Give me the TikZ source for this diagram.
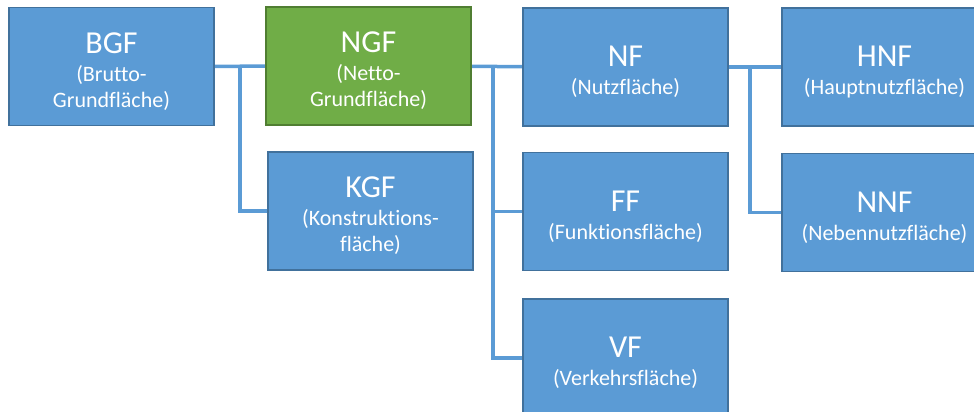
\documentclass[tikz,border=0pt]{standalone}
\usepackage{fontspec}
\setmainfont{Carlito}[Ligatures={NoCommon}]
\usepackage{tikz}
\usetikzlibrary{calc}
\definecolor{areablue}{HTML}{5B9BD5}
\definecolor{areablueline}{HTML}{41719C}
\definecolor{areagreen}{HTML}{70AD47}
\definecolor{areagreenline}{HTML}{507E32}
\newcommand{\titlefont}{\fontsize{32}{38}\selectfont}
\newcommand{\subfont}{\fontsize{22}{26}\selectfont}
\newcommand{\abbrev}[1]{\rule{0pt}{31pt}{\titlefont #1}\\[2pt]}
\tikzset{
    area/.style={draw=areablueline, fill=areablue, line width=1.2pt, text=white,
        font=\subfont, minimum width=205pt, minimum height=118pt, align=center,
        inner sep=0pt},
    netarea/.style={area, draw=areagreenline, fill=areagreen},
    link/.style={draw=areablue, line width=3.5pt}
}

\begin{document}
\begin{tikzpicture}[x=1pt, y=-1pt]
    \clip (0,0) rectangle (974,412);
    \useasboundingbox (0,0) rectangle (974,412);

    \coordinate (B) at (111.5,66.5);
    \coordinate (N) at (368.5,66);
    \coordinate (K) at (370.5,211);
    \coordinate (U) at (625.5,67);
    \coordinate (F) at (625.5,211.5);
    \coordinate (V) at (625.5,358);
    \coordinate (H) at (884.5,67);
    \coordinate (E) at (884.5,212.5);

    % Connectors (drawn first, under the boxes)
    \coordinate (j1) at (240,66.5);
    \coordinate (j2) at (493,66.5);
    \coordinate (j3) at (750,67);
    \draw[link] (B) -- (N);
    \draw[link] (j1) |- (K);
    \draw[link] (N) -- (U);
    \draw[link] (j2) |- (F);
    \draw[link] (j2) |- (V);
    \draw[link] (U) -- (H);
    \draw[link] (j3) |- (E);

    % Gross floor area
    \node[area] (bgf) at (B) {\abbrev{BGF}(Brutto-\\Grundfläche)};

    % Net floor area
    \node[netarea] (ngf) at (N) {\abbrev{NGF}(Netto-\\Grundfläche)};
    \node[area] (kgf) at (K) {\abbrev{KGF}(Konstruktions-\\fläche)};

    % Parts of NGF
    \node[area] (nf) at (U) {\abbrev{NF}(Nutzfläche)};
    \node[area] (ff) at (F) {\abbrev{FF}(Funktionsfläche)};
    \node[area] (vf) at (V) {\abbrev{VF}(Verkehrsfläche)};

    % Parts of NF
    \node[area] (hnf) at (H) {\abbrev{HNF}(Hauptnutzfläche)};
    \node[area] (nnf) at (E) {\abbrev{NNF}(Nebennutzfläche)};
\end{tikzpicture}
\end{document}
